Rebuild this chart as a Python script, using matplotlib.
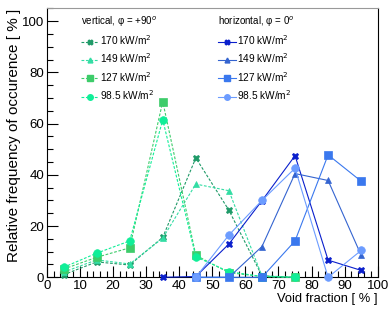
import matplotlib
matplotlib.use("Agg")
import matplotlib.pyplot as plt
from matplotlib.lines import Line2D
from matplotlib.ticker import MultipleLocator

plt.rcParams["font.family"] = ["Liberation Sans", "DejaVu Sans"]

nan = float("nan")

# void fraction bin centres [%]
x_vert = [5, 15, 25, 35, 45, 55, 65, 75]
x_hor = [35, 45, 55, 65, 75, 85, 95]

labels = ["170 kW/m$^2$", "149 kW/m$^2$", "127 kW/m$^2$", "98.5 kW/m$^2$"]

# vertical, phi = +90 deg
v170 = [1.0, 6.0, 4.8, 15.6, 46.6, 26.2, 0.6, 0.0]
v149 = [2.0, 6.8, 5.2, 15.3, 36.4, 33.8, 0.5, 0.0]
v127 = [3.2, 7.8, 11.5, 68.6, 8.6, 1.8, 0.3, 0.0]
v985 = [3.9, 9.4, 14.2, 61.5, 8.0, 2.2, 0.3, 0.0]

# horizontal, phi = 0 deg
h170 = [0.0, 0.3, 13.0, 29.9, 47.5, 6.7, 2.7]
h149 = [nan, 0.0, 0.0, 12.0, 40.5, 37.8, 8.6]
h127 = [nan, 0.0, 0.0, 0.0, 14.2, 47.8, 37.5]
h985 = [nan, 0.0, 16.5, 30.0, 42.6, 0.0, 10.5]

markers = ["X", "^", "s", "o"]
msizes = [5, 5, 5.5, 5.5]
vcols = ["#1f9a68", "#33dda4", "#3dcc6a", "#10ee98"]
hcols = ["#0a1fcc", "#3464d0", "#3a78ee", "#6c9cff"]

fig = plt.figure(figsize=(3.9, 3.1), dpi=100)
ax = fig.add_axes([0.1205, 0.1055, 0.848, 0.8675])

for ys, c, m, ms in zip([v170, v149, v127, v985], vcols, markers, msizes):
    ax.plot(x_vert, ys, color=c, ls=(0, (2.5, 1.5)), lw=0.8, marker=m,
            ms=ms, mec=c, mfc=c, mew=0.5, clip_on=False, zorder=3)
for ys, c, m, ms in zip([h170, h149, h127, h985], hcols, markers, msizes):
    ax.plot(x_hor, ys, color=c, ls="-", lw=0.8, marker=m,
            ms=ms, mec=c, mfc=c, mew=0.5, clip_on=False, zorder=4)

ax.set_xlim(0, 100)
ax.set_ylim(0, 105)
ax.xaxis.set_major_locator(MultipleLocator(10))
ax.xaxis.set_minor_locator(MultipleLocator(2))
ax.yaxis.set_major_locator(MultipleLocator(20))
ax.yaxis.set_minor_locator(MultipleLocator(5))
ax.tick_params(which="both", direction="in", top=False, right=False,
               labelsize=9.5, width=0.8, pad=2)
ax.tick_params(which="major", length=8)
ax.tick_params(which="minor", length=4)
ax.spines["top"].set_color("#999999")
for s in ax.spines.values():
    s.set_linewidth(0.8)

ax.set_xlabel("Void fraction [ % ]", fontsize=9.3, loc="right", labelpad=1)
ax.set_ylabel("Relative frequency of occurence [ % ]", fontsize=11,
              loc="top", labelpad=1)

vh = [Line2D([], [], color=c, ls=(0, (2.5, 1.5)), lw=0.8, marker=m, ms=ms - 1.5,
             mec=c, mfc=c) for c, m, ms in zip(vcols, markers, msizes)]
hh = [Line2D([], [], color=c, ls="-", lw=0.8, marker=m, ms=ms - 1.5,
             mec=c, mfc=c) for c, m, ms in zip(hcols, markers, msizes)]

common = dict(loc="upper left", frameon=False, fontsize=7.3, title_fontsize=7,
              handlelength=1.7, handletextpad=0.15, labelspacing=0.45,
              borderpad=0.0, borderaxespad=0.0)
leg1 = ax.legend(vh, labels, title="vertical, φ = +90$^o$",
                 bbox_to_anchor=(0.103, 0.978), **common)
leg1._legend_box.align = "left"
ax.add_artist(leg1)
leg2 = ax.legend(hh, labels, title="horizontal, φ = 0$^o$",
                 bbox_to_anchor=(0.518, 0.978), **common)
leg2._legend_box.align = "left"

fig.savefig("out.png", dpi=100)
